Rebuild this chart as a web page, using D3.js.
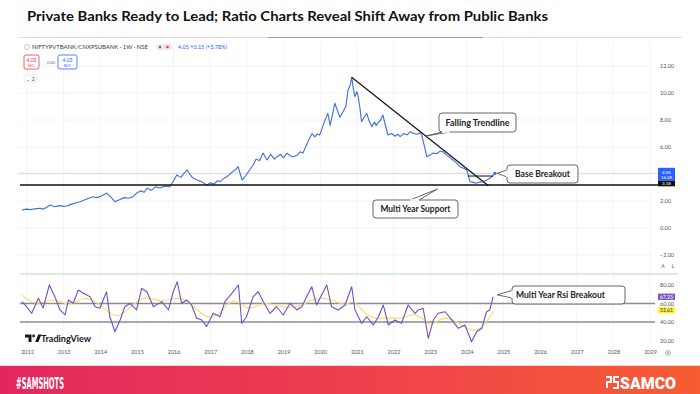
<!DOCTYPE html>
<html>
<head>
<meta charset="utf-8">
<script src="https://cdn.jsdelivr.net/npm/d3@7"></script>
<style>
  html, body { margin: 0; padding: 0; background: #fff; }
  svg { display: block; }
</style>
</head>
<body>
<div id="chart"></div>
<script>
// ratio NIFTYPVTBANK / CNXPSUBANK, weekly as [year, value]
const price = [
  [2011.86, 1.33], [2011.98, 1.40], [2012.10, 1.36], [2012.22, 1.42], [2012.35, 1.46], [2012.45, 1.40],
  [2012.55, 1.55], [2012.63, 1.70], [2012.75, 1.58], [2012.88, 1.66], [2013.00, 1.60], [2013.09, 1.63],
  [2013.20, 1.75], [2013.32, 1.85], [2013.45, 1.95], [2013.55, 2.05], [2013.68, 2.20], [2013.80, 2.32],
  [2013.92, 2.25], [2014.05, 2.40], [2014.18, 2.59], [2014.28, 2.30], [2014.40, 1.95], [2014.52, 2.10],
  [2014.65, 2.25], [2014.78, 2.20], [2014.89, 2.32], [2015.00, 2.60], [2015.10, 2.75], [2015.20, 2.65],
  [2015.27, 2.94], [2015.40, 2.80], [2015.50, 3.05], [2015.63, 2.96], [2015.75, 3.10], [2015.90, 3.06],
  [2016.00, 3.50], [2016.09, 3.93], [2016.20, 3.75], [2016.30, 4.10], [2016.37, 4.30], [2016.45, 3.95],
  [2016.53, 3.70], [2016.65, 3.55], [2016.78, 3.40], [2016.91, 3.19], [2017.00, 3.35], [2017.10, 3.25],
  [2017.20, 3.50], [2017.27, 3.43], [2017.38, 3.70], [2017.46, 3.80], [2017.58, 4.10], [2017.70, 4.35],
  [2017.76, 4.54], [2017.82, 4.00], [2017.87, 3.56], [2017.95, 3.80], [2018.05, 4.20], [2018.17, 4.67],
  [2018.25, 5.10], [2018.35, 5.00], [2018.44, 5.55], [2018.55, 5.04], [2018.65, 5.45], [2018.75, 5.10],
  [2018.82, 5.28], [2018.92, 5.45], [2019.00, 5.20], [2019.09, 5.55], [2019.18, 5.35], [2019.26, 5.28],
  [2019.38, 5.40], [2019.45, 5.65], [2019.53, 5.55], [2019.62, 6.10], [2019.70, 6.60], [2019.78, 7.00],
  [2019.85, 6.75], [2019.92, 6.95], [2019.99, 6.90], [2020.08, 7.60], [2020.15, 8.10], [2020.21, 8.50],
  [2020.27, 7.60], [2020.33, 8.30], [2020.40, 9.25], [2020.47, 8.70], [2020.54, 8.20], [2020.62, 8.60],
  [2020.70, 9.00], [2020.76, 10.20], [2020.82, 10.60], [2020.86, 11.16], [2020.90, 10.40], [2020.95, 9.73],
  [2021.00, 10.10], [2021.03, 9.85], [2021.08, 9.00], [2021.13, 7.88], [2021.20, 8.20], [2021.27, 8.50],
  [2021.34, 7.90], [2021.41, 7.50], [2021.48, 7.85], [2021.53, 7.60], [2021.58, 7.80], [2021.65, 8.00],
  [2021.71, 8.37], [2021.78, 7.60], [2021.85, 6.89], [2021.95, 7.00], [2022.05, 6.80], [2022.12, 6.95],
  [2022.18, 6.77], [2022.28, 7.00], [2022.38, 6.90], [2022.45, 7.13], [2022.55, 7.00], [2022.65, 6.95],
  [2022.72, 7.05], [2022.77, 6.89], [2022.84, 6.10], [2022.91, 5.28], [2023.00, 5.40], [2023.08, 5.55],
  [2023.18, 5.50], [2023.28, 5.70], [2023.35, 5.65], [2023.45, 5.40], [2023.55, 5.20], [2023.62, 5.04],
  [2023.72, 4.80], [2023.81, 4.54], [2023.90, 4.45], [2024.00, 4.30], [2024.03, 4.00], [2024.09, 3.43],
  [2024.18, 3.38], [2024.27, 3.31], [2024.35, 3.40], [2024.44, 3.43], [2024.55, 3.55], [2024.63, 3.68],
  [2024.70, 3.85], [2024.77, 4.05]
];

// RSI(14) and its moving average
const rsi = [
  [2011.86, 62], [2011.99, 56.5], [2012.13, 49.4], [2012.31, 65.6], [2012.44, 55], [2012.61, 80],
  [2012.76, 67.4], [2012.90, 53], [2013.04, 47.6], [2013.13, 63.8], [2013.26, 60.2], [2013.40, 74.6],
  [2013.54, 71], [2013.72, 67.4], [2013.86, 56.5], [2013.99, 54.8], [2014.17, 72.7], [2014.26, 45.7],
  [2014.40, 29.5], [2014.54, 42.2], [2014.67, 56.5], [2014.81, 60.2], [2014.99, 53], [2015.13, 76.4],
  [2015.27, 72.7], [2015.45, 56.5], [2015.68, 62], [2015.86, 53], [2015.99, 72.7], [2016.10, 83.5],
  [2016.22, 60.2], [2016.36, 63.8], [2016.49, 58.4], [2016.63, 44], [2016.77, 42.2], [2016.90, 35],
  [2017.08, 49.4], [2017.27, 45.7], [2017.40, 62], [2017.59, 71], [2017.77, 80], [2017.86, 38.6],
  [2017.99, 45.7], [2018.17, 67.4], [2018.31, 72.7], [2018.45, 62], [2018.63, 49.4], [2018.81, 56.5],
  [2018.99, 47.6], [2019.18, 60.2], [2019.36, 53], [2019.50, 56.5], [2019.63, 67.4], [2019.77, 78.2],
  [2019.90, 58.4], [2020.04, 69.2], [2020.18, 80], [2020.31, 56.5], [2020.49, 53], [2020.68, 58.4],
  [2020.81, 72.7], [2020.86, 78.2], [2020.95, 53], [2021.13, 38.6], [2021.27, 45.7], [2021.45, 36.8],
  [2021.59, 45.7], [2021.72, 58.4], [2021.86, 36.8], [2022.04, 42.2], [2022.22, 38.6], [2022.40, 58.4],
  [2022.59, 49.4], [2022.68, 53], [2022.81, 54.8], [2022.95, 22.4], [2023.09, 42.2], [2023.22, 49.4],
  [2023.41, 51.1], [2023.59, 42.2], [2023.77, 33.2], [2023.95, 36.8], [2024.13, 18.7], [2024.27, 29.5],
  [2024.41, 33.2], [2024.54, 51.1], [2024.63, 53], [2024.72, 67.4]
];

const rsiMa = [
  [2011.86, 69], [2012.26, 56.5], [2012.76, 67.4], [2013.17, 54.8], [2013.53, 69], [2013.99, 60.2],
  [2014.45, 40.3], [2014.90, 60.2], [2015.27, 69], [2015.63, 60.2], [2016.22, 69], [2016.54, 56.5],
  [2016.95, 42.2], [2017.31, 49.4], [2017.63, 69], [2018.04, 49.4], [2018.45, 63.8], [2018.99, 54.8],
  [2019.45, 56.5], [2019.90, 67.4], [2020.36, 63.8], [2020.72, 56.5], [2020.90, 65.6], [2021.18, 49.4],
  [2021.54, 42.2], [2021.81, 45.7], [2022.18, 42.2], [2022.50, 49.4], [2022.77, 45.7], [2023.00, 33.2],
  [2023.36, 47.6], [2023.73, 40.3], [2024.18, 27.7], [2024.45, 35], [2024.72, 51.1]
];

const trendline = [[2020.86, 11.16], [2024.59, 3.13]];
const baseBreakout = [[2024.03, 3.85], [2024.72, 3.85]];
const supportLevel = 3.18;
const lastPrice = 4.05;
const lastRsi = 67.23;
const lastRsiMa = 52.61;

const yearTicks = [2012, 2013, 2014, 2015, 2016, 2017, 2018, 2019, 2020, 2021, 2022, 2023, 2024, 2025, 2026, 2027, 2028, 2029];
const priceTicks = [12, 10, 8, 6, 2, 0, -2];
const priceGrid = [12, 10, 8, 6, 4, 2, 0, -2];
const rsiTicks = [80, 60, 40, 20];
const rsiBands = [60, 40];

const W = 700, H = 394;
const FONT = "Lato, 'Open Sans', sans-serif";

const svg = d3.select("#chart").append("svg")
  .attr("width", W).attr("height", H)
  .attr("viewBox", `0 0 ${W} ${H}`)
  .style("font-family", FONT);

svg.append("rect").attr("width", W).attr("height", H).attr("fill", "#fff");

const x = d3.scaleLinear().domain([2012, 2029]).range([27, 650]);
const y = d3.scaleLinear().domain([0, 12]).range([228, 66]);
const yr = d3.scaleLinear().domain([40, 60]).range([322, 303.5]);

// title
svg.append("text")
  .attr("x", 27).attr("y", 21)
  .attr("font-size", 13.5).attr("font-weight", 700).attr("fill", "#111")
  .attr("textLength", 521).attr("lengthAdjust", "spacingAndGlyphs")
  .text("Private Banks Ready to Lead; Ratio Charts Reveal Shift Away from Public Banks");

svg.append("line").attr("x1", 18).attr("x2", 682).attr("y1", 37.5).attr("y2", 37.5)
  .attr("stroke", "#dcdcdc").attr("stroke-width", 1);
svg.append("line").attr("x1", 268).attr("x2", 483).attr("y1", 37.5).attr("y2", 37.5)
  .attr("stroke", "#9a9a9a").attr("stroke-width", 1.2);

// grid
const grid = svg.append("g").attr("stroke", "#eef1f6").attr("stroke-width", 0.8);
grid.selectAll("line.v").data(yearTicks).join("line")
  .attr("x1", (d) => x(d)).attr("x2", (d) => x(d))
  .attr("y1", 42).attr("y2", 346);
grid.selectAll("line.h").data(priceGrid).join("line")
  .attr("x1", 18).attr("x2", 652)
  .attr("y1", (d) => y(d)).attr("y2", (d) => y(d));

// header
const hd = svg.append("g").attr("font-family", FONT);
hd.append("circle").attr("cx", 27).attr("cy", 47).attr("r", 2.6)
  .attr("fill", "none").attr("stroke", "#c4c4c4").attr("stroke-width", 0.8);
hd.append("text").attr("x", 32).attr("y", 49).attr("font-size", 6).attr("fill", "#3a3a3a")
  .attr("textLength", 116).attr("lengthAdjust", "spacingAndGlyphs")
  .text("NIFTYPVTBANK/CNXPSUBANK · 1W · NSE");
hd.append("rect").attr("x", 156).attr("y", 44).attr("width", 16).attr("height", 6).attr("rx", 3).attr("fill", "#fbe3e6");
hd.append("circle").attr("cx", 160).attr("cy", 47).attr("r", 1.3).attr("fill", "#089981");
hd.append("circle").attr("cx", 167.5).attr("cy", 47).attr("r", 1.3).attr("fill", "#f23645");
hd.append("text").attr("x", 178).attr("y", 49).attr("font-size", 5.5).attr("fill", "#2962ff")
  .attr("textLength", 49).attr("lengthAdjust", "spacingAndGlyphs")
  .text("4.05 +0.15 (+3.78%)");

const tradeBox = (bx, w, color, label) => {
  hd.append("rect").attr("x", bx).attr("y", 55).attr("width", w).attr("height", 14).attr("rx", 2)
    .attr("fill", "#fff").attr("stroke", color).attr("stroke-width", 0.8);
  hd.append("text").attr("x", bx + w / 2).attr("y", 61.5).attr("text-anchor", "middle")
    .attr("font-size", 5).attr("fill", color).text("4.03");
  hd.append("text").attr("x", bx + w / 2).attr("y", 66.8).attr("text-anchor", "middle")
    .attr("font-size", 3.5).attr("fill", color).text(label);
};
tradeBox(24, 15, "#f23645", "SELL");
tradeBox(58, 19, "#2962ff", "BUY");
hd.append("text").attr("x", 51).attr("y", 64).attr("text-anchor", "middle")
  .attr("font-size", 4).attr("fill", "#666").text("0.00");
hd.append("rect").attr("x", 24).attr("y", 75).attr("width", 13).attr("height", 7).attr("rx", 1.5)
  .attr("fill", "#fff").attr("stroke", "#ddd").attr("stroke-width", 0.6);
hd.append("text").attr("x", 30.5).attr("y", 80.5).attr("text-anchor", "middle")
  .attr("font-size", 5).attr("fill", "#444").text("⌄ 2");

// price pane
const pane = svg.append("g");

pane.append("line")
  .attr("x1", 18).attr("x2", 658)
  .attr("y1", y(lastPrice)).attr("y2", y(lastPrice))
  .attr("stroke", "#d6dae3").attr("stroke-width", 1);

pane.append("path")
  .datum(price)
  .attr("fill", "none")
  .attr("stroke", "#3d6fd6")
  .attr("stroke-width", 1.1)
  .attr("stroke-linejoin", "round")
  .attr("d", d3.line().x((d) => x(d[0])).y((d) => y(d[1])));

pane.append("circle")
  .attr("cx", x(price[price.length - 1][0])).attr("cy", y(price[price.length - 1][1]))
  .attr("r", 1.6).attr("fill", "#3d6fd6");

pane.append("line")
  .attr("x1", 20).attr("x2", 658)
  .attr("y1", y(supportLevel)).attr("y2", y(supportLevel))
  .attr("stroke", "#111").attr("stroke-width", 1.4);

pane.append("path")
  .datum(trendline)
  .attr("fill", "none").attr("stroke", "#111").attr("stroke-width", 1.2)
  .attr("d", d3.line().x((d) => x(d[0])).y((d) => y(d[1])));

pane.append("path")
  .datum(baseBreakout)
  .attr("fill", "none").attr("stroke", "#111").attr("stroke-width", 1)
  .attr("d", d3.line().x((d) => x(d[0])).y((d) => y(d[1])));

// callouts
function callout(box, tip, base, label, textLen, anchor) {
  const g = svg.append("g");
  g.append("rect")
    .attr("x", box.x).attr("y", box.y).attr("width", box.w).attr("height", box.h).attr("rx", 3)
    .attr("fill", "#fff").attr("stroke", "#555").attr("stroke-width", 0.9);
  g.append("path")
    .attr("d", `M${base[0][0]},${base[0][1]}L${tip[0]},${tip[1]}L${base[1][0]},${base[1][1]}`)
    .attr("fill", "#fff").attr("stroke", "#555").attr("stroke-width", 0.9);
  g.append("line")
    .attr("x1", base[0][0]).attr("y1", base[0][1]).attr("x2", base[1][0]).attr("y2", base[1][1])
    .attr("stroke", "#fff").attr("stroke-width", 1.6);
  const tx = anchor === "start" ? box.x + 4 : box.x + box.w / 2;
  g.append("text")
    .attr("x", tx).attr("y", box.y + box.h / 2 + 3)
    .attr("text-anchor", anchor || "middle")
    .attr("font-size", 9).attr("font-weight", 700).attr("fill", "#222")
    .attr("textLength", textLen).attr("lengthAdjust", "spacingAndGlyphs")
    .text(label);
}

const trendAt = (t) => trendline[0][1] + (t - trendline[0][0]) * (trendline[1][1] - trendline[0][1]) / (trendline[1][0] - trendline[0][0]);

callout({ x: 439, y: 113, w: 77, h: 19 }, [x(2022.88), y(trendAt(2022.88))],
  [[442, 132], [450, 132]], "Falling Trendline", 64);
callout({ x: 507, y: 165, w: 71, h: 18 }, [x(2024.83), y(lastPrice)],
  [[507, 170], [507, 177]], "Base Breakout", 55);
callout({ x: 373, y: 200, w: 85, h: 18 }, [x(2023.2), y(supportLevel) + 4],
  [[410, 200], [419, 200]], "Multi Year Support", 70);

// price axis
const pAxis = svg.append("g")
  .attr("transform", "translate(659,0)")
  .call(d3.axisRight(y).tickValues(priceTicks).tickFormat(d3.format(".2f")).tickSize(0).tickPadding(1))
  .call((g) => g.select(".domain").remove())
  .call((g) => g.selectAll("text").attr("fill", "#555").attr("font-size", 5.5).attr("font-family", FONT));

svg.append("rect").attr("x", 658).attr("y", y(lastPrice) - 5.5).attr("width", 17).attr("height", 13)
  .attr("fill", "#2962ff");
svg.append("text").attr("x", 666.5).attr("y", y(lastPrice) + 0.5).attr("text-anchor", "middle")
  .attr("font-size", 4.6).attr("fill", "#fff").text("4.05");
svg.append("text").attr("x", 666.5).attr("y", y(lastPrice) + 5.8).attr("text-anchor", "middle")
  .attr("font-size", 4.3).attr("fill", "#fff").text("16:28");
svg.append("rect").attr("x", 658).attr("y", y(lastPrice) + 7.5).attr("width", 17).attr("height", 5.5)
  .attr("fill", "#111");
svg.append("text").attr("x", 666.5).attr("y", y(lastPrice) + 11.8).attr("text-anchor", "middle")
  .attr("font-size", 4.5).attr("fill", "#fff").text(supportLevel.toFixed(2));

svg.append("text").attr("x", 663).attr("y", 268).attr("text-anchor", "middle")
  .attr("font-size", 5).attr("fill", "#555").text("A");
svg.append("text").attr("x", 673).attr("y", 268).attr("text-anchor", "middle")
  .attr("font-size", 5).attr("fill", "#555").text("L");

// RSI pane
const rp = svg.append("g");
rp.append("line").attr("x1", 20).attr("x2", 678).attr("y1", 274).attr("y2", 274)
  .attr("stroke", "#b7dcb5").attr("stroke-width", 1);

rp.selectAll("line.band").data(rsiBands).join("line")
  .attr("x1", 20).attr("x2", 655)
  .attr("y1", (d) => yr(d)).attr("y2", (d) => yr(d))
  .attr("stroke", "#8a8d95").attr("stroke-width", 1.3);

rp.append("path")
  .datum(rsiMa)
  .attr("fill", "none").attr("stroke", "#f3e06a").attr("stroke-width", 1.2)
  .attr("d", d3.line().curve(d3.curveBasis).x((d) => x(d[0])).y((d) => yr(d[1])));

rp.append("path")
  .datum(rsi)
  .attr("fill", "none").attr("stroke", "#6f4fc6").attr("stroke-width", 1.1)
  .attr("stroke-linejoin", "round")
  .attr("d", d3.line().x((d) => x(d[0])).y((d) => yr(d[1])));

svg.append("g")
  .attr("transform", "translate(659,0)")
  .call(d3.axisRight(yr).tickValues(rsiTicks).tickFormat(d3.format(".2f")).tickSize(0).tickPadding(1))
  .call((g) => g.select(".domain").remove())
  .call((g) => g.selectAll("text").attr("fill", "#555").attr("font-size", 5.5).attr("font-family", FONT));

const tag = (v, fill, color) => {
  svg.append("rect").attr("x", 658).attr("y", yr(v) - 3.2).attr("width", 17).attr("height", 6.4)
    .attr("fill", fill);
  svg.append("text").attr("x", 666.5).attr("y", yr(v) + 1.9).attr("text-anchor", "middle")
    .attr("font-size", 5).attr("fill", color).text(v.toFixed(2));
};
tag(lastRsi, "#7e57c2", "#fff");
tag(lastRsiMa, "#fff23a", "#333");

callout({ x: 512, y: 286, w: 113, h: 18 }, [x(2024.83), yr(lastRsi) - 2],
  [[512, 290.5], [512, 298]], "Multi Year Rsi Breakout", 89, "start");

// x axis
svg.append("g")
  .attr("transform", "translate(0,348)")
  .call(d3.axisBottom(x).tickValues(yearTicks).tickFormat(d3.format("d")).tickSize(0).tickPadding(2))
  .call((g) => g.select(".domain").remove())
  .call((g) => g.selectAll("text").attr("fill", "#555").attr("font-size", 5.5).attr("font-family", FONT));

svg.append("circle").attr("cx", 668).attr("cy", 353).attr("r", 2.4)
  .attr("fill", "none").attr("stroke", "#777").attr("stroke-width", 0.6);
svg.append("circle").attr("cx", 668).attr("cy", 353).attr("r", 0.8)
  .attr("fill", "none").attr("stroke", "#777").attr("stroke-width", 0.5);

// TradingView watermark
const tv = svg.append("g").attr("fill", "#131722");
tv.append("path").attr("d", "M25,334.5h6.5v7.5h-3v-4.6h-3.5z");
tv.append("circle").attr("cx", 33.6).attr("cy", 336).attr("r", 1.4);
tv.append("path").attr("d", "M35.2,342l3-7.5h3.2l-3,7.5z");
tv.append("text").attr("x", 41).attr("y", 341.5).attr("font-size", 9).attr("font-weight", 700)
  .attr("textLength", 50).attr("lengthAdjust", "spacingAndGlyphs").text("TradingView");

// footer band
const defs = svg.append("defs");
const grad = defs.append("linearGradient").attr("id", "band");
grad.append("stop").attr("offset", "0%").attr("stop-color", "#e2275e");
grad.append("stop").attr("offset", "55%").attr("stop-color", "#ef424c");
grad.append("stop").attr("offset", "100%").attr("stop-color", "#f65d33");

svg.append("line").attr("x1", 0).attr("x2", W).attr("y1", 365.5).attr("y2", 365.5)
  .attr("stroke", "#f1d7dc").attr("stroke-width", 1);
svg.append("rect").attr("x", 0).attr("y", 366).attr("width", W).attr("height", 28).attr("fill", "url(#band)");

svg.append("text").attr("x", 16).attr("y", 388.5)
  .attr("font-size", 15).attr("font-weight", 700).attr("fill", "#fff")
  .attr("font-family", "'DejaVu Sans Condensed', 'DejaVu Sans', sans-serif")
  .attr("textLength", 48).attr("lengthAdjust", "spacingAndGlyphs")
  .text("#SAMSHOTS");

const logo = svg.append("g").attr("fill", "none").attr("stroke", "#fff").attr("stroke-width", 2);
logo.append("path").attr("d", "M606,377h5v5h-4v6");
logo.append("path").attr("d", "M619,377h-5v5h4v6h-5");
svg.append("text").attr("x", 620).attr("y", 388.5)
  .attr("font-size", 16).attr("font-weight", 900).attr("fill", "#fff")
  .attr("font-family", "Roboto, Lato, sans-serif")
  .attr("textLength", 56).attr("lengthAdjust", "spacingAndGlyphs")
  .text("SAMCO");
</script>
</body>
</html>
